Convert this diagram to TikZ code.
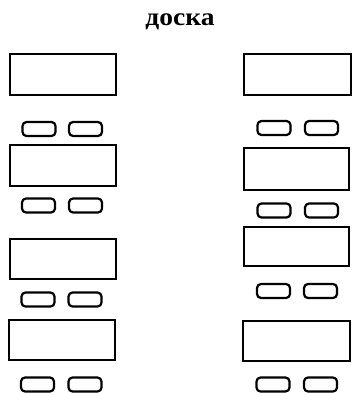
\documentclass[tikz,border=0pt]{standalone}
\usepackage{fontspec}
\setmainfont{Liberation Serif}
\begin{document}
\begin{tikzpicture}[x=1pt,y=-1pt,
  bigbox/.style={draw,line width=2.2pt,inner sep=0pt,outer sep=0pt,minimum width=106pt,minimum height=41pt},
  smallbox/.style={draw,line width=2.2pt,rounded corners=4pt,inner sep=0pt,outer sep=0pt,minimum width=33pt,minimum height=14pt},
  titlestyle/.style={font=\bfseries\fontsize{25}{25}\selectfont,inner sep=0pt,anchor=base,xscale=1.1}]
\useasboundingbox (0,0) rectangle (352,393);
\node[titlestyle] (title) at (180,25.5) {доска};
% left column
\node[bigbox] (LB1) at (63,74.5) {};
\node[smallbox] (LS1a) at (39,129) {};
\node[smallbox] (LS1b) at (85.5,129) {};
\node[bigbox] (LB2) at (63,165.5) {};
\node[smallbox] (LS2a) at (38.5,205.5) {};
\node[smallbox] (LS2b) at (85.5,205.5) {};
\node[bigbox,minimum height=40pt] (LB3) at (63,259) {};
\node[smallbox] (LS3a) at (38,299.5) {};
\node[smallbox] (LS3b) at (85,299.5) {};
\node[bigbox,minimum height=40pt] (LB4) at (62,340) {};
\node[smallbox] (LS4a) at (37.5,384.5) {};
\node[smallbox] (LS4b) at (85,384.5) {};
% right column
\node[bigbox,minimum width=107pt] (RB1) at (297.5,74.5) {};
\node[smallbox] (RS1a) at (274,128) {};
\node[smallbox] (RS1b) at (321.5,128) {};
\node[bigbox,minimum width=105pt,minimum height=42pt] (RB2) at (296.5,169) {};
\node[smallbox] (RS2a) at (274,210.5) {};
\node[smallbox] (RS2b) at (321.5,210.5) {};
\node[bigbox,minimum width=105pt,minimum height=39pt] (RB3) at (296.5,246.5) {};
\node[smallbox] (RS3a) at (273.5,291) {};
\node[smallbox] (RS3b) at (320.5,291) {};
\node[bigbox,minimum width=107pt,minimum height=40pt] (RB4) at (296.5,341) {};
\node[smallbox] (RS4a) at (273,384.5) {};
\node[smallbox] (RS4b) at (320.5,384.5) {};
\end{tikzpicture}
\end{document}
